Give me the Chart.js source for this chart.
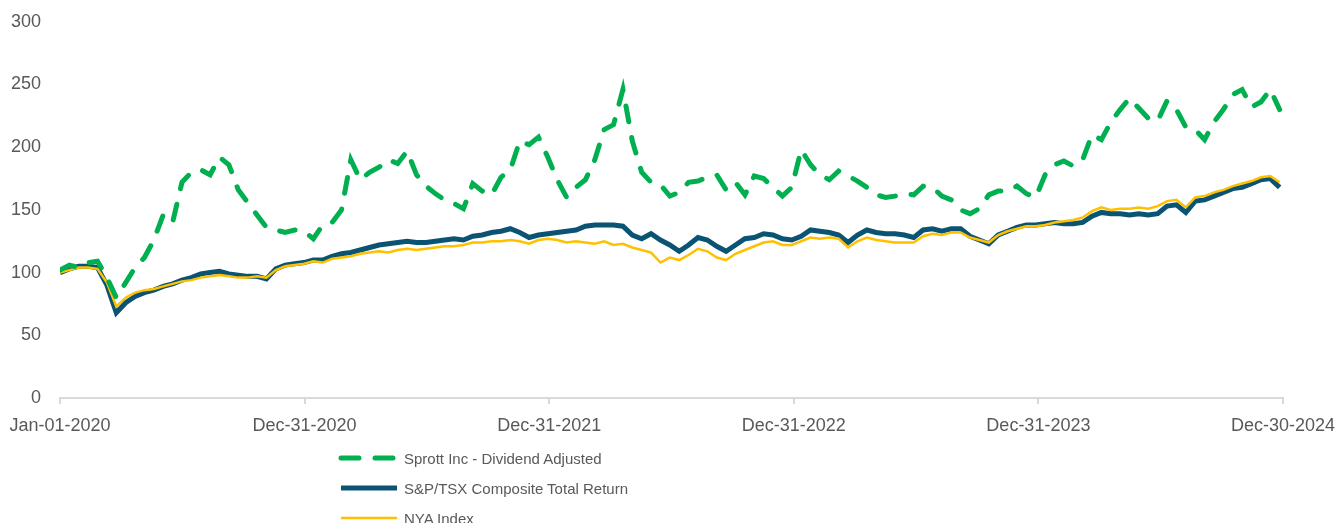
<!DOCTYPE html>
<html>
<head>
<meta charset="utf-8">
<script src="https://cdn.jsdelivr.net/npm/chart.js@4"></script>
<style>
  body { margin: 0; background: #fff; font-family: "Liberation Sans", Arial, sans-serif; }
  #wrap { position: relative; width: 1338px; height: 523px; }
  #chartBox { position: absolute; left: 0; top: 0; width: 1338px; height: 440px; }
  #legend { position: absolute; left: 337px; top: 443px; }
  .item { display: flex; align-items: center; height: 30px; color: #595959; font-size: 15px; }
  .item canvas { margin-right: 5px; }
</style>
</head>
<body>
<div id="wrap">
  <div id="chartBox"><canvas id="myChart"></canvas></div>
  <div id="legend"></div>
</div>
<script>
// one value every 14 days, starting Jan-01-2020
const stepDays = 14;

const tickDays = [0, 365, 730, 1095, 1460, 1825];
const tickLabels = ["Jan-01-2020", "Dec-31-2020", "Dec-31-2021", "Dec-31-2022", "Dec-31-2023", "Dec-30-2024"];

const seriesNames = ["Sprott Inc - Dividend Adjusted", "S&P/TSX Composite Total Return", "NYA Index"];

const sprott = [102,106,104,108,109,96,80,92,104,112,126,146,140,172,180,182,178,192,186,166,
  156,146,136,134,132,134,133,127,138,140,150,190,174,180,184,190,187,197,178,169,
  163,158,155,151,171,165,162,176,182,205,202,208,192,174,160,168,174,190,214,218,
  246,205,180,172,170,161,164,172,173,176,178,166,172,162,177,175,168,161,168,198,
  186,178,174,181,177,173,168,162,160,161,163,162,169,168,161,158,150,147,151,162,
  165,165,169,163,160,178,186,189,185,190,210,206,220,230,239,231,223,221,237,230,
  216,214,206,220,230,242,246,232,236,246,230];

const tsx = [100,103,105,105,104,90,68,76,81,84,86,89,91,94,96,99,100,101,99,98,
  97,97,95,103,106,107,108,110,110,113,115,116,118,120,122,123,124,125,124,124,
  125,126,127,126,129,130,132,133,135,132,128,130,131,132,133,134,137,138,138,138,
  137,130,127,131,126,122,117,122,128,126,121,117,122,127,128,131,130,127,126,129,
  134,133,132,130,124,130,134,132,131,131,130,128,134,135,133,135,135,129,126,123,
  130,133,136,138,138,139,140,139,139,140,145,148,147,147,146,147,146,147,153,154,
  148,157,158,161,164,167,168,171,174,175,168];

const nya = [100,102,104,104,103,92,73,80,84,86,87,89,91,93,94,96,97,98,97,96,
  96,97,96,102,105,106,107,109,108,111,112,113,115,116,117,116,118,119,118,119,
  120,121,121,122,124,124,125,125,126,125,123,126,127,126,124,125,124,123,125,122,
  123,120,118,116,108,112,110,114,119,117,112,110,115,118,121,124,125,122,122,125,
  128,127,128,127,120,125,128,126,125,124,124,124,129,131,130,132,132,128,126,124,
  130,133,135,137,137,138,140,141,142,144,149,152,150,151,151,152,151,153,157,158,
  152,160,161,164,166,169,171,173,176,177,172];

function toPoints(arr){
  return arr.map(function(v, i){ return { x: i * stepDays, y: v }; });
}

const ctx = document.getElementById("myChart").getContext("2d");
const myChart = new Chart(ctx, {
  type: "line",
  data: {
    datasets: [
      {
        label: seriesNames[0],
        data: toPoints(sprott),
        borderColor: "#00B050",
        borderWidth: 5,
        borderDash: [16, 16],
        borderCapStyle: "round",
        order: 1
      },
      {
        label: seriesNames[1],
        data: toPoints(tsx),
        borderColor: "#0B5372",
        borderWidth: 5,
        order: 3
      },
      {
        label: seriesNames[2],
        data: toPoints(nya),
        borderColor: "#FFC000",
        borderWidth: 2.5,
        order: 2
      }
    ]
  },
  options: {
    responsive: true,
    maintainAspectRatio: false,
    animation: false,
    layout: { padding: { top: 13, right: 55, left: 0, bottom: 0 } },
    elements: { point: { radius: 0 }, line: { tension: 0 } },
    plugins: {
      legend: { display: false },
      tooltip: { enabled: false }
    },
    scales: {
      x: {
        type: "linear",
        min: 0,
        max: 1825,
        afterBuildTicks: function(scale){
          scale.ticks = tickDays.map(function(d){ return { value: d }; });
        },
        afterFit: function(scale){
          scale.height = 42;
          // labels at the ends may hang over, like the original
          scale.paddingLeft = 0;
          scale.paddingRight = 0;
        },
        ticks: {
          autoSkip: false,
          maxRotation: 0,
          color: "#595959",
          font: { size: 18, family: "Liberation Sans" },
          padding: 11,
          callback: function(value){
            const k = tickDays.indexOf(value);
            return k >= 0 ? tickLabels[k] : "";
          }
        },
        grid: { drawOnChartArea: false, drawTicks: true, tickLength: 6, color: "#D9D9D9", lineWidth: 2 },
        border: { color: "#D9D9D9", width: 2 }
      },
      y: {
        min: 0,
        max: 300,
        afterFit: function(scale){ scale.width = 60; },
        ticks: {
          stepSize: 50,
          color: "#595959",
          font: { size: 18, family: "Liberation Sans" },
          padding: 11
        },
        grid: { display: false },
        border: { display: false }
      }
    }
  }
});

// legend laid out as a vertical list under the chart, like the original
const legendBox = document.getElementById("legend");
myChart.data.datasets.forEach(function(ds){
  const row = document.createElement("div");
  row.className = "item";
  const c = document.createElement("canvas");
  c.width = 62; c.height = 12;
  const g = c.getContext("2d");
  g.strokeStyle = ds.borderColor;
  g.lineWidth = ds.borderWidth;
  g.lineCap = ds.borderCapStyle || "butt";
  if (ds.borderDash) g.setLineDash([18, 16]);
  g.beginPath();
  g.moveTo(4, 6);
  g.lineTo(60, 6);
  g.stroke();
  row.appendChild(c);
  const t = document.createElement("span");
  t.textContent = ds.label;
  row.appendChild(t);
  legendBox.appendChild(row);
});
</script>
</body>
</html>
